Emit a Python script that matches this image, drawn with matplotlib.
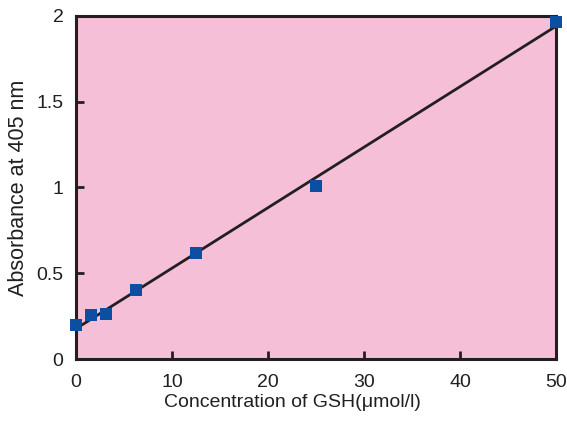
import matplotlib
matplotlib.use("Agg")
import matplotlib.pyplot as plt
import numpy as np

plt.rcParams['font.family'] = ['Liberation Sans', 'DejaVu Sans']

conc = [0, 1.5625, 3.125, 6.25, 12.5, 25, 50]
absorb = [0.20, 0.255, 0.26, 0.40, 0.62, 1.01, 1.965]
xticks = [0, 10, 20, 30, 40, 50]
yticks = [0, 0.5, 1, 1.5, 2]
ytick_labels = ["0", "0.5", "1", "1.5", "2"]

fig = plt.figure(figsize=(5.67, 4.23), dpi=100)
ax = fig.add_axes([76/567, 1-359/423, (556-76)/567, (359-16)/423])
ax.set_facecolor('#f6bfd8')

slope, intercept = np.polyfit(conc, absorb, 1)
xl = np.array([0, 50])
ax.plot(xl, slope*xl + intercept, color='#231f20', lw=2, zorder=2)
ax.plot(conc, absorb, 's', color='#0b4ea2', ms=9, mew=0, zorder=3, clip_on=False)

ax.set_xlim(0, 50)
ax.set_ylim(0, 2)
ax.set_xticks(xticks)
ax.set_yticks(yticks)
ax.set_yticklabels(ytick_labels)
for s in ax.spines.values():
    s.set_linewidth(2.2)
    s.set_color('#231f20')
ax.tick_params(direction='in', length=6, width=2, color='#231f20', labelsize=14,
               labelcolor='#231f20')
ax.tick_params(axis='x', pad=11)
ax.tick_params(axis='y', pad=9)
ax.set_xlabel('Concentration of GSH(μmol/l)', fontsize=14, color='#231f20')
ax.xaxis.set_label_coords((292-76)/480, -(394-359)/343)
ax.set_ylabel('Absorbance at 405 nm', fontsize=15.5, color='#231f20')
ax.yaxis.set_label_coords(-(76-29)/480, (359-188)/343)

fig.savefig('out.png', dpi=100)
